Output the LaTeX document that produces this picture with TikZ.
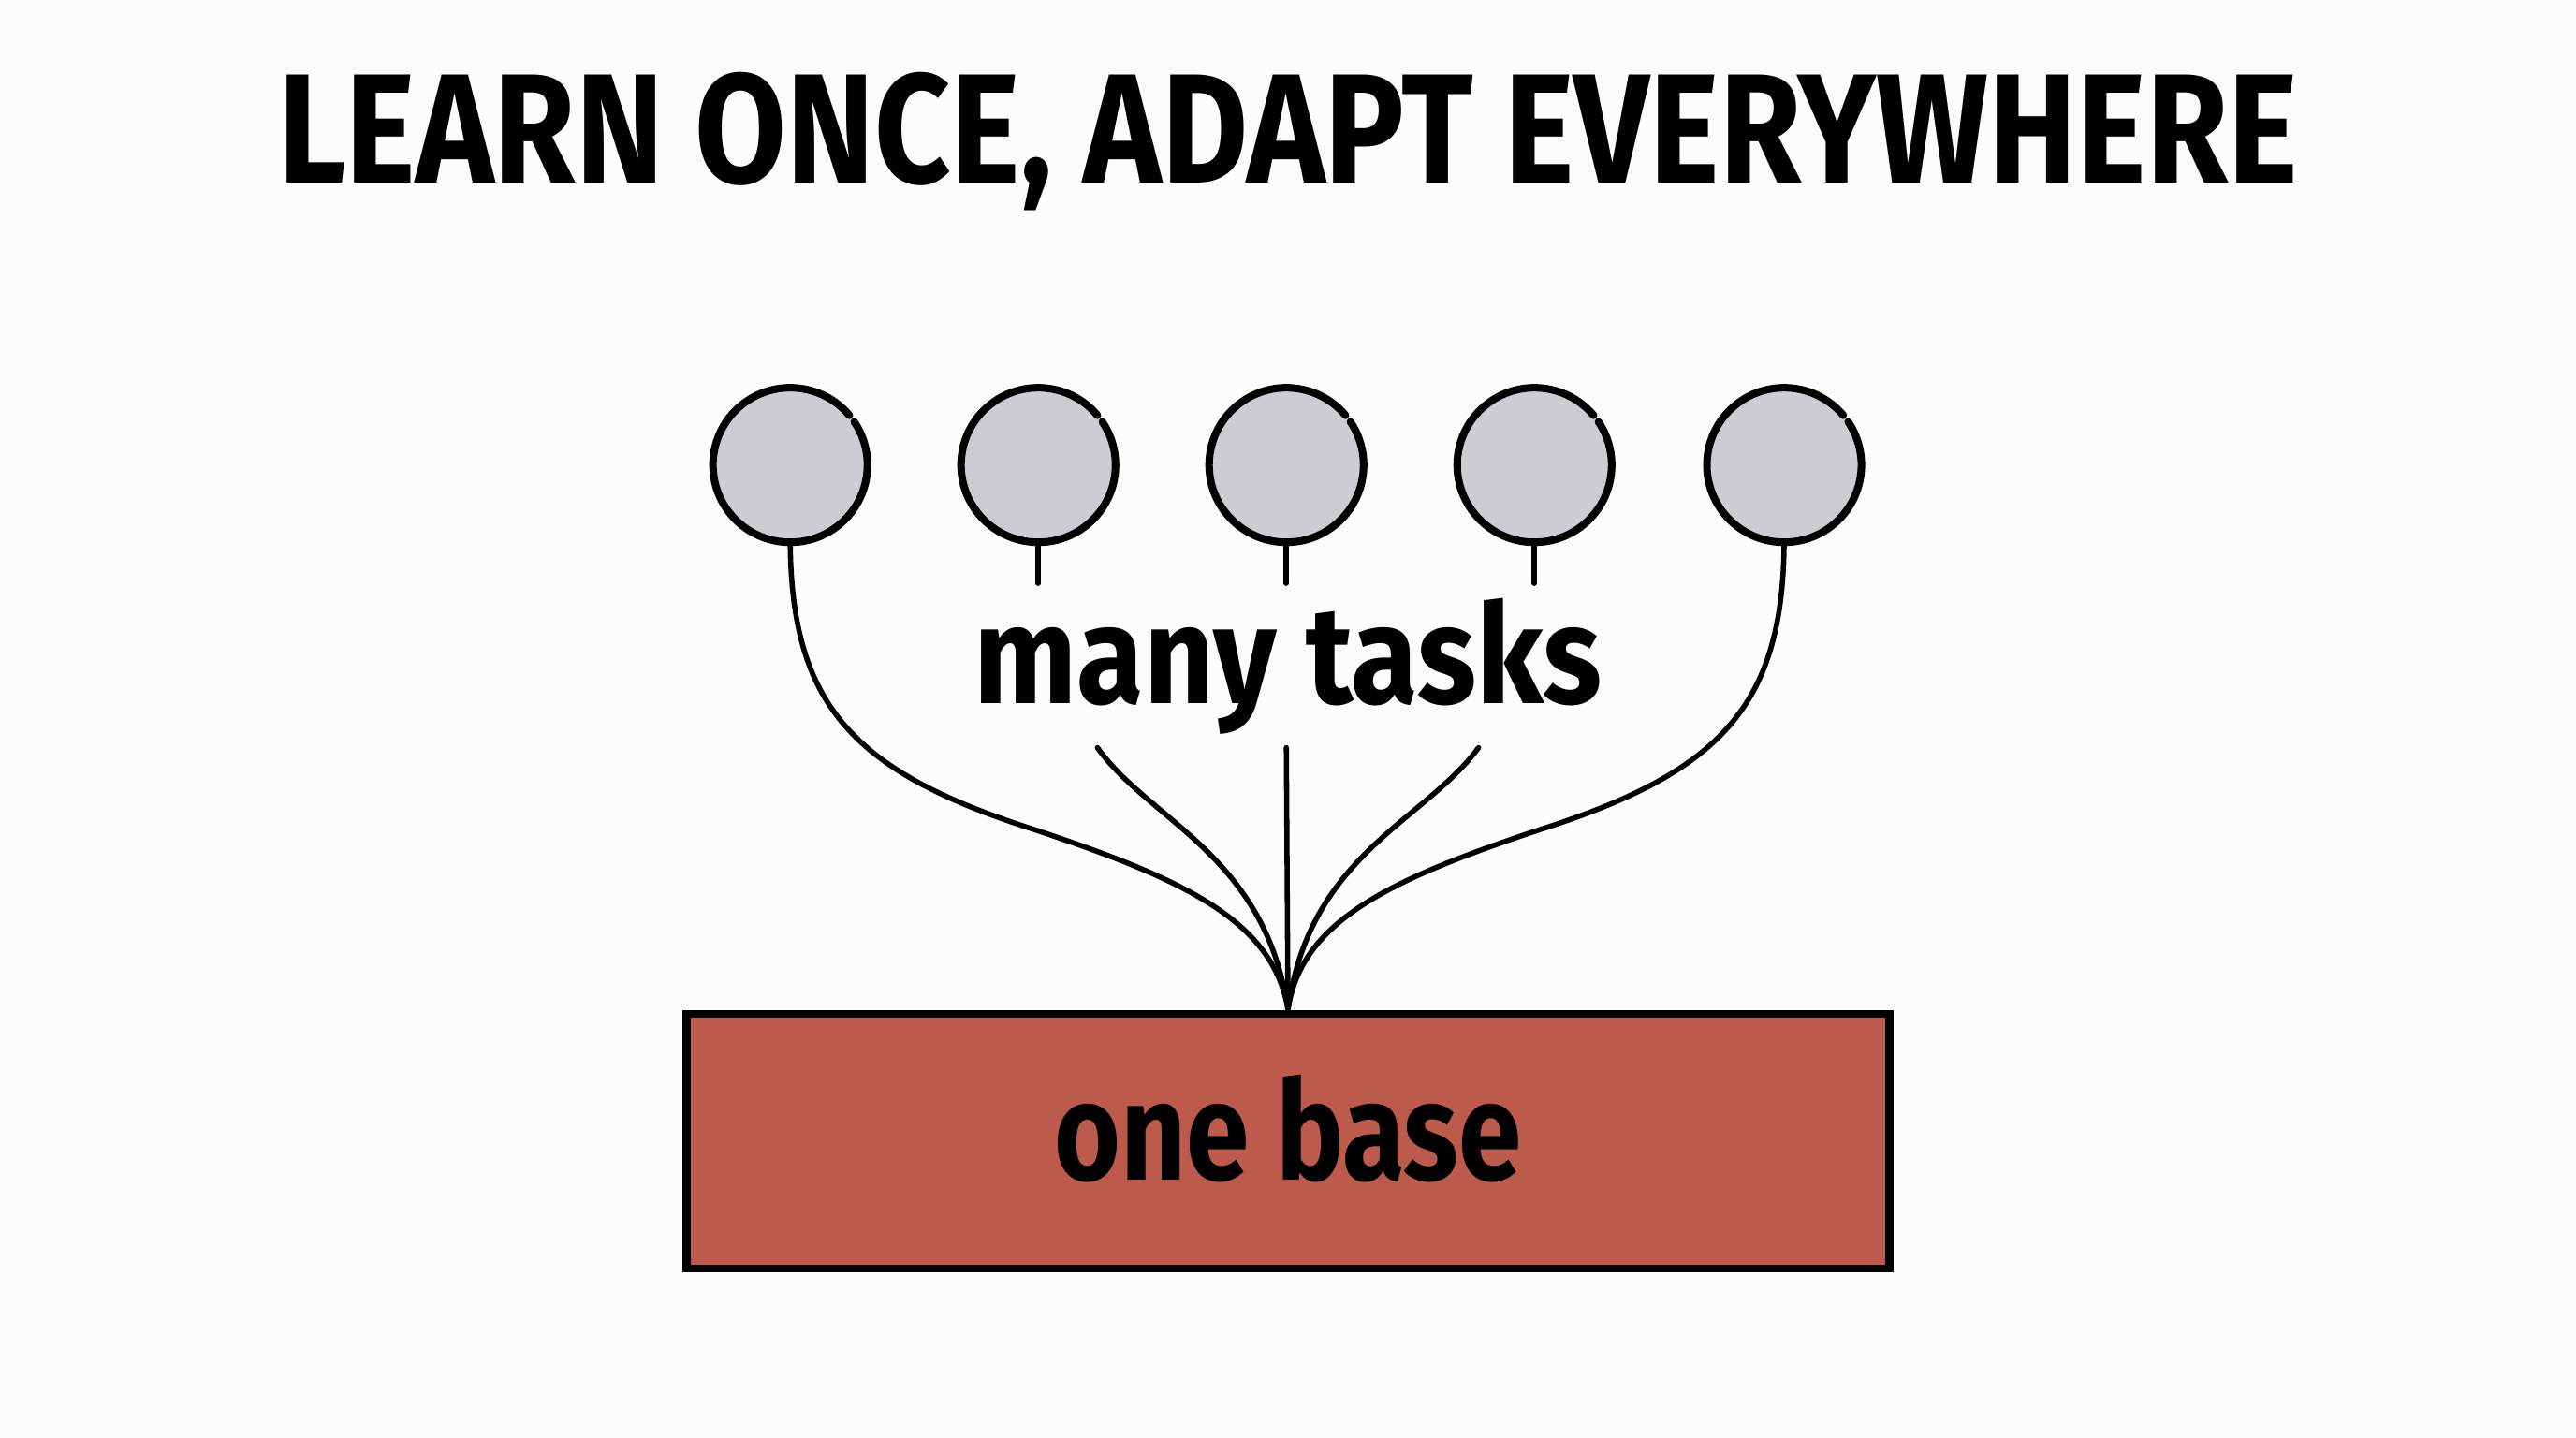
\documentclass[tikz,border=0pt]{standalone}
\usepackage{fontspec}
\newfontfamily\handfont{Fira Sans}[FakeStretch=0.88]
\newfontfamily\basefont{Fira Sans}[FakeStretch=0.82]
\newfontfamily\headfont{Fira Sans}[FakeStretch=0.85]
\usetikzlibrary{positioning}
\definecolor{paper}{HTML}{FCFCFB}
\definecolor{taskgrey}{HTML}{CCCDD1}
\definecolor{basered}{HTML}{BC5A4B}

\begin{document}
\begin{tikzpicture}[
    x=0.01cm, y=-0.01cm,
    task/.style={circle, fill=taskgrey, minimum size=0.94cm, inner sep=0pt},
    ring/.style={line width=1.3pt, line cap=round},
    stem/.style={line width=0.9pt, line cap=round},
    basebox/.style={draw, line width=1.4pt, fill=basered, minimum width=7.32cm, minimum height=1.55cm, inner sep=0pt},
    headline/.style={font=\headfont\bfseries\fontsize{27}{32}\selectfont},
    handtext/.style={font=\bfseries\fontsize{24}{28}\selectfont, anchor=base}
  ]
    \fill[paper] (0,0) rectangle (1568,875);
    \useasboundingbox (0,0) rectangle (1568,875);

    \node[headline] (title) at (784,86) {LEARN ONCE, ADAPT EVERYWHERE};

    % task circles with a small break in the outline
    \foreach \i/\x in {1/481,2/632,3/783,4/934,5/1086} {
      \node[task] (t\i) at (\x,283) {};
      \draw[ring] ([shift={(40:0.47cm)}]t\i.center) arc[start angle=40, end angle=394, radius=0.47cm];
    }

    \node[handtext] (tasks) at (784,428) {\handfont many tasks};

    \node[basebox] (base) at (784,694.5) {};
    \node[handtext] (baselabel) at (784,718) {\basefont one base};
    \coordinate (j) at (base.north);

    % short stems above the label, their lines go on below it
    \foreach \i/\x in {2/632,3/783,4/934}
      \draw[stem] (t\i.south) -- (\x,355);
    \coordinate (s2) at (668,455);
    \coordinate (s3) at (783,455);
    \coordinate (s4) at (900,455);

    \draw[stem] (t1.south) .. controls (482,430) and (520,470) .. (630,505)
                .. controls (720,535) and (775,560) .. (j);
    \draw[stem] (t5.south) .. controls (1085,430) and (1047,470) .. (937,505)
                .. controls (847,535) and (792,560) .. (j);
    \draw[stem] (s2) .. controls (700,500) and (770,520) .. (j);
    \draw[stem] (s3) -- (j);
    \draw[stem] (s4) .. controls (867,500) and (797,520) .. (j);
  \end{tikzpicture}
\end{document}
